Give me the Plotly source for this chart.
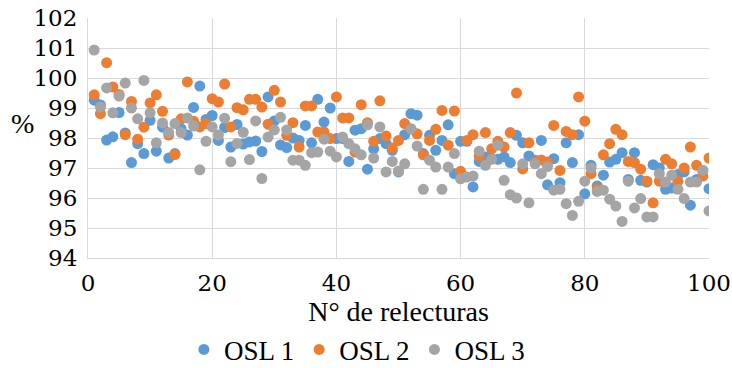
import plotly.graph_objects as go

# Reading index (N° de relecturas)
relecturas = list(range(1, 101))

osl1 = [99.26, 99.10, 97.93, 98.04, 98.85, 98.17, 97.18, 97.81, 97.48, 98.59,
        97.56, 98.36, 97.33, 97.48, 98.30, 98.10, 99.02, 99.73, 98.62, 98.75,
        97.92, 98.35, 97.70, 98.45, 97.80, 97.87, 97.90, 97.55, 99.37, 98.57,
        97.77, 97.68, 98.00, 97.92, 98.42, 97.84, 99.29, 98.53, 99.00, 97.98,
        97.98, 97.22, 98.26, 98.31, 96.96, 97.64, 97.98, 97.81, 97.59, 96.87,
        98.11, 98.81, 98.76, 97.48, 98.09, 97.59, 97.92, 98.44, 96.81, 97.89,
        97.89, 96.37, 97.22, 97.37, 97.31, 97.29, 97.37, 97.18, 98.09, 97.84,
        97.40, 97.26, 97.92, 96.44, 97.31, 96.51, 97.84, 97.18, 98.11, 96.14,
        97.09, 96.40, 96.76, 97.20, 97.29, 97.51, 96.62, 97.51, 96.59, 96.53,
        97.11, 97.00, 96.29, 96.33, 96.78, 96.87, 95.76, 96.62, 96.92, 96.31]

osl2 = [99.44, 98.81, 100.51, 99.70, 99.45, 98.11, 99.22, 97.96, 98.36, 99.17,
        99.44, 98.89, 98.10, 97.45, 98.64, 99.87, 98.56, 98.37, 98.48, 99.31,
        99.20, 99.80, 98.37, 99.01, 98.94, 99.29, 99.29, 99.03, 98.46, 99.59,
        99.20, 98.09, 98.51, 97.70, 99.07, 99.07, 98.20, 98.20, 97.98, 99.37,
        98.67, 98.67, 97.53, 99.11, 98.51, 97.89, 99.24, 98.07, 97.67, 97.92,
        98.48, 98.30, 98.14, 97.44, 97.92, 98.29, 98.92, 97.76, 98.90, 96.89,
        97.92, 98.11, 97.40, 98.18, 97.64, 97.89, 97.70, 98.18, 99.50, 96.97,
        97.84, 97.20, 97.27, 97.20, 98.42, 96.92, 98.22, 98.11, 99.37, 98.56,
        96.81, 96.31, 97.44, 97.81, 98.29, 98.11, 97.22, 97.18, 96.96, 96.56,
        95.84, 96.56, 97.29, 97.14, 96.56, 97.00, 97.70, 97.09, 96.73, 97.33]

osl3 = [100.93, 99.03, 99.67, 98.84, 99.40, 99.83, 99.00, 98.64, 99.92, 98.84,
        97.84, 98.50, 98.18, 98.48, 98.18, 98.67, 98.40, 96.94, 97.89, 98.37,
        98.10, 98.66, 97.21, 97.82, 98.19, 97.28, 98.57, 96.65, 98.03, 98.27,
        98.69, 98.27, 97.26, 97.26, 97.09, 97.51, 97.53, 97.96, 97.56, 97.37,
        98.03, 97.81, 97.64, 97.44, 98.44, 97.33, 98.37, 96.87, 97.22, 96.90,
        97.14, 98.31, 97.73, 96.29, 97.26, 97.03, 96.29, 97.03, 97.48, 96.64,
        96.70, 96.73, 97.56, 97.09, 97.29, 97.76, 96.59, 96.11, 96.00, 97.14,
        95.84, 97.14, 96.81, 97.05, 96.26, 96.29, 95.81, 95.42, 95.89, 96.56,
        97.00, 96.22, 96.26, 95.96, 95.73, 95.22, 96.56, 95.67, 95.98, 95.37,
        95.37, 96.81, 96.53, 96.76, 96.29, 95.98, 96.53, 96.53, 96.92, 95.57]

series_names = ["OSL 1", "OSL 2", "OSL 3"]
series_colors = ["#5B9BD5", "#ED7D31", "#A5A5A5"]

x_ticks = [0, 20, 40, 60, 80, 100]
y_ticks = [94, 95, 96, 97, 98, 99, 100, 101, 102]

FONT = "Liberation Serif"
TICK_FONT = "DejaVu Serif"
serif = dict(family=FONT, size=28, color="#000000")

fig = go.Figure()
for name, vals, col in zip(series_names, [osl1, osl2, osl3], series_colors):
    fig.add_trace(go.Scatter(
        x=relecturas, y=vals, mode="markers", name=name,
        marker=dict(color=col, size=11, line=dict(width=0)),
    ))

grid = "#D9D9D9"
fig.update_layout(
    width=732, height=368,
    margin=dict(l=88, r=23, t=18, b=110, autoexpand=False),
    paper_bgcolor="white", plot_bgcolor="white",
    font=serif,
    showlegend=True,
    legend=dict(orientation="h", x=0.433, xanchor="center",
                y=-0.383, yanchor="middle",
                font=dict(family=FONT, size=27, color="#000000"), itemwidth=30,
                tracegroupgap=0, bgcolor="rgba(0,0,0,0)"),
    xaxis=dict(range=[0, 100], tickmode="array", tickvals=x_ticks,
               showgrid=True, gridcolor=grid, automargin=False,
               gridwidth=1, zeroline=False, showline=True, linecolor=grid,
               linewidth=1, ticks="", ticklabelstandoff=4,
               ticklabeloverflow="allow",
               tickfont=dict(family=TICK_FONT, size=23, color="#000000"),
               title=dict(text="N° de relecturas", standoff=2, font=serif)),
    yaxis=dict(range=[94, 102], tickmode="array", tickvals=y_ticks,
               showgrid=True, gridcolor=grid, automargin=False,
               gridwidth=1, zeroline=False, showline=True, linecolor=grid,
               linewidth=1, ticks="", ticklabelstandoff=5,
               tickfont=dict(family=TICK_FONT, size=23, color="#000000")),
    annotations=[dict(text="%", xref="paper", yref="paper", x=-0.106, y=0.5625,
                      xanchor="center", yanchor="middle", showarrow=False,
                      font=serif)],
)

fig.write_html("out.html")
